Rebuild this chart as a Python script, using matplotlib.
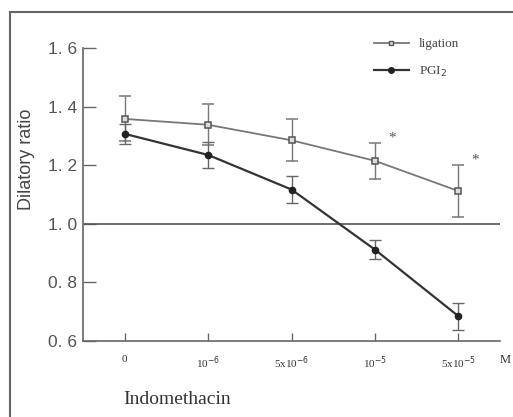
import matplotlib
matplotlib.use("Agg")
import matplotlib.pyplot as plt
from matplotlib.lines import Line2D

categories = ["0", "10$^{-6}$", "5x10$^{-6}$", "10$^{-5}$", "5x10$^{-5}$"]
ligation = [1.358, 1.338, 1.285, 1.215, 1.112]
ligation_err = [0.077, 0.07, 0.072, 0.062, 0.088]
pgi2 = [1.307, 1.235, 1.117, 0.912, 0.685]
pgi2_err = [0.035, 0.043, 0.046, 0.032, 0.046]
yticks = [0.6, 0.8, 1.0, 1.2, 1.4, 1.6]
ytick_labels = ["0. 6", "0. 8", "1. 0", "1. 2", "1. 4", "1. 6"]
sig_idx = [3, 4]

fig = plt.figure(figsize=(5.13, 4.17), dpi=100)
ax = fig.add_axes([83/513, 1-341/417, (500-83)/513, (341-48)/417])

x = list(range(len(categories)))
lig_c = "#777777"
pg_c = "#333333"

ax.errorbar(x, ligation, yerr=ligation_err, color=lig_c, lw=1.3, marker="s",
            ms=4, mfc="#dddddd", mec="#555555", mew=1.1, capsize=4, elinewidth=1.0,
            ecolor="#777777", zorder=3)
ax.errorbar(x, pgi2, yerr=pgi2_err, color=pg_c, lw=1.6, marker="o",
            ms=4.5, mfc="#222222", mec="#222222", capsize=4, elinewidth=1.0,
            ecolor="#666666", zorder=4)

for i in sig_idx:
    ax.text(x[i] + 0.2, ligation[i] + ligation_err[i] - 0.005, "*",
            fontsize=11, color="#555555", ha="center", va="bottom",
            family="Liberation Serif")

ax.axhline(1.0, color="#555555", lw=1.2, zorder=2)

ax.set_xlim(-0.5, 4.5)
ax.set_ylim(0.6, 1.6)
ax.set_xticks(x)
ax.set_xticklabels(categories, family="Liberation Serif", fontsize=8, color="#333333")
ax.set_yticks(yticks)
ax.set_yticklabels(ytick_labels, family="Liberation Sans", fontsize=12.5, color="#555555")
ax.tick_params(axis="y", direction="in", length=9, width=1, color="#666666", pad=4)
ax.tick_params(axis="x", direction="in", length=6, width=1, color="#666666", pad=10)
for s in ["top", "right"]:
    ax.spines[s].set_visible(False)
for s in ["left", "bottom"]:
    ax.spines[s].set_color("#666666")
    ax.spines[s].set_linewidth(1.2)

ax.set_ylabel("Dilatory ratio", family="Liberation Sans", fontsize=13, color="#444444")
ax.yaxis.set_label_coords(-0.115, 0.62)
fig.text(123/513, 1-400/417, "Indomethacin", family="Liberation Serif",
         fontsize=14, color="#333333", va="center", ha="left")
fig.text(505/513, 1-360/417, "M", family="Liberation Serif", fontsize=9,
         color="#333333", va="center", ha="center")

handles = [
    Line2D([], [], color=lig_c, lw=1.3, marker="s", ms=3.5, mfc="#dddddd", mec="#555555"),
    Line2D([], [], color=pg_c, lw=1.6, marker="o", ms=4, mfc="#222222", mec="#222222"),
]
leg = ax.legend(handles, ["ligation", "PGI$_2$"], loc="upper left",
                bbox_to_anchor=(0.67, 1.075), frameon=False,
                prop={"family": "Liberation Serif", "size": 9.5}, handlelength=2.6,
                labelspacing=1.1, handletextpad=0.8)
for t in leg.get_texts():
    t.set_color("#444444")

fig.add_artist(Line2D([10/513, 10/513], [0, 1-12/417], color="#666666", lw=1.5))
fig.add_artist(Line2D([10/513, 1], [1-12/417, 1-12/417], color="#666666", lw=1.5))

fig.savefig("out.png", dpi=100)
